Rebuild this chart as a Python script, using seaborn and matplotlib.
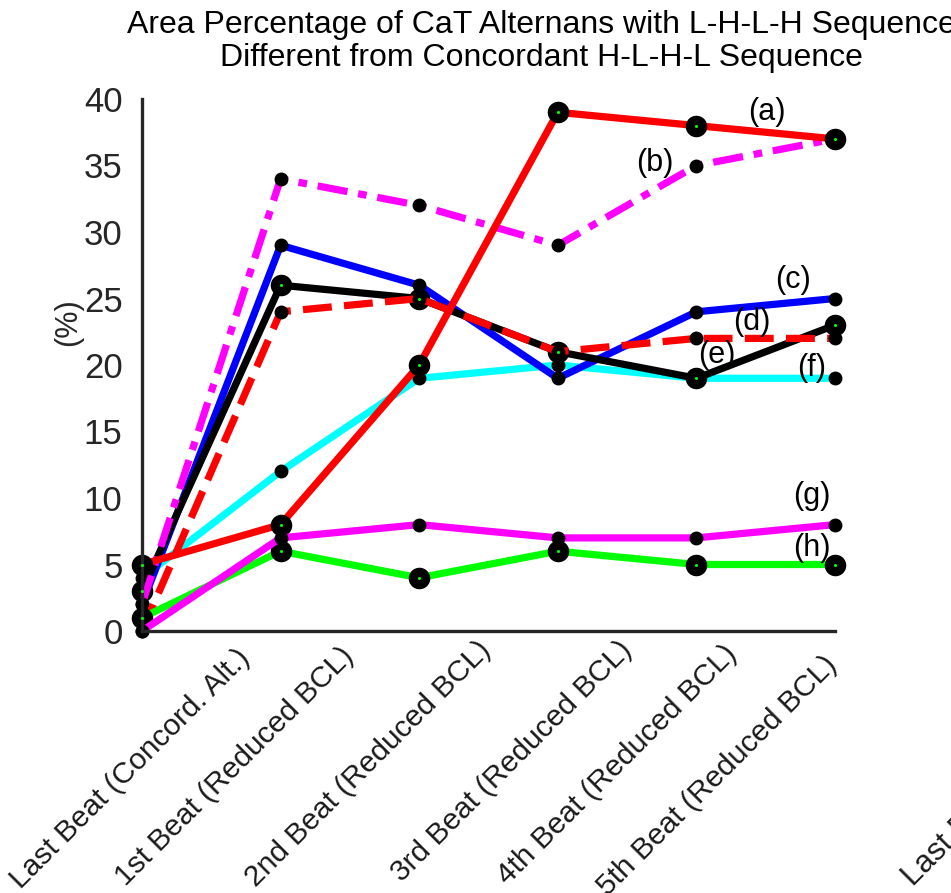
import matplotlib
matplotlib.use("Agg")
import matplotlib.pyplot as plt
from matplotlib.transforms import ScaledTranslation
import seaborn as sns
import numpy as np

# Beat positions and their labels
beats = [
    "Last Beat (Concord. Alt.)",
    "1st Beat (Reduced BCL)",
    "2nd Beat (Reduced BCL)",
    "3rd Beat (Reduced BCL)",
    "4th Beat (Reduced BCL)",
    "5th Beat (Reduced BCL)",
]
positions = np.arange(len(beats))

# Area percentage (%) for each case
case_a = [5, 8, 20, 39, 38, 37]
case_b = [2, 34, 32, 29, 35, 37]
case_c = [2, 29, 26, 19, 24, 25]
case_d = [0, 24, 25, 21, 22, 22]
case_e = [3, 26, 25, 21, 19, 23]
case_f = [4, 12, 19, 20, 19, 19]
case_g = [0, 7, 8, 7, 7, 8]
case_h = [1, 6, 4, 6, 5, 5]

case_labels = ["(a)", "(b)", "(c)", "(d)", "(e)", "(f)", "(g)", "(h)"]
label_xy = [(4.51, 39.0), (3.70, 35.2), (4.70, 26.4), (4.40, 23.2),
            (4.15, 20.75), (4.83, 19.8), (4.83, 10.15), (4.83, 6.24)]

sns.set_style("white")
plt.rcParams["font.family"] = ["Liberation Sans", "DejaVu Sans"]

W, H = 951, 893
fig = plt.figure(figsize=(W / 100, H / 100), dpi=100)
ax = fig.add_axes([142 / W, (H - 631) / H, 693 / W, 532 / H])

# (values, color, linestyle, big marker?) in drawing order
series = [
    (case_f, "#00FFFF", "-", False),
    (case_c, "#0000FF", "-", False),
    (case_e, "#000000", "-", True),
    (case_b, "#FF00FF", (0, (4.2, 1.5, 1.2, 1.5)), False),
    (case_a, "#FF0000", "-", True),
    (case_d, "#FF0000", (0, (4.0, 1.7)), False),
    (case_h, "#00FF00", "-", True),
    (case_g, "#FF00FF", "-", False),
]

for vals, col, ls, big in series:
    sns.lineplot(x=positions, y=vals, ax=ax, color=col, linewidth=5.2,
                 linestyle=ls, marker="o",
                 markersize=14.5 if big else 9,
                 markerfacecolor="black", markeredgecolor="black",
                 markeredgewidth=1, clip_on=False, legend=False)
    if big:
        sns.scatterplot(x=positions, y=vals, ax=ax, color="#00FF00", s=5,
                        linewidth=0, zorder=5, clip_on=False, legend=False)

for lab, (lx, ly) in zip(case_labels, label_xy):
    ax.text(lx, ly, lab, fontsize=22, ha="center", va="center", color="black")

ax.set_xlim(0, 5)
ax.set_ylim(0, 40)
ax.set_yticks(np.arange(0, 41, 5))
ax.set_xticks(positions)
ax.set_xticklabels(beats, rotation=45, ha="right", va="top",
                   rotation_mode="anchor", fontsize=21.5, color="#1a1a1a")
ax.set_xlabel("")
ax.set_ylabel("")

spine_col = "#262626"
for side in ["top", "right"]:
    ax.spines[side].set_visible(False)
for side in ["left", "bottom"]:
    ax.spines[side].set_color(spine_col)
    ax.spines[side].set_linewidth(2.4)
ax.tick_params(axis="both", direction="in", length=6, width=2.2,
               color=spine_col)
ax.tick_params(axis="y", labelsize=25, pad=14, labelcolor=spine_col)
ax.tick_params(axis="x", pad=0)

# shift each rotated beat label (pixels right, pixels down)
shift_px = [(94, 13), (59, 11), (57, 5), (60, 5), (26, 9), (-12, 20)]
for tl, (dx, dy) in zip(ax.get_xticklabels(), shift_px):
    tl.set_transform(tl.get_transform() +
                     ScaledTranslation(dx / 100, -dy / 100, fig.dpi_scale_trans))

fig.text(68 / W, 1 - 322 / H, "(%)", rotation=90, ha="center", va="center",
         fontsize=22, color=spine_col)

fig.text(541 / W, 1 - 25 / H,
         "Area Percentage of CaT Alternans with L-H-L-H Sequence",
         ha="center", va="center", fontsize=23, color="black")
fig.text(541 / W, 1 - 58 / H,
         "Different from Concordant H-L-H-L Sequence",
         ha="center", va="center", fontsize=23, color="black")

# first beat label of the neighbouring panel
fig.text(913 / W, 1 - 887 / H, beats[0], rotation=45, ha="left",
         va="baseline", rotation_mode="anchor", fontsize=22.5, color="#1a1a1a")

fig.savefig("out.png", dpi=100)
